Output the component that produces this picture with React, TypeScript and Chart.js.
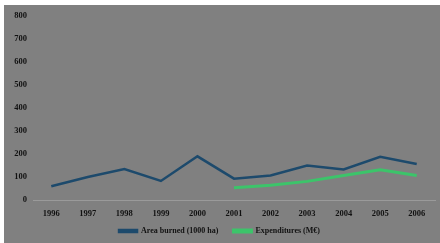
import React, { useEffect, useRef } from "react";
import { Chart, registerables } from "chart.js";

Chart.register(...registerables);

const years = ["1996", "1997", "1998", "1999", "2000", "2001", "2002", "2003", "2004", "2005", "2006"];
const areaBurned = [60, 100, 135, 83, 190, 93, 107, 150, 133, 188, 157];
const expenditures = [null, null, null, null, null, 53, 64, 81, 107, 131, 107];
const yTicks = [0, 100, 200, 300, 400, 500, 600, 700, 800];

const legendFix = {
  id: "legendFix",
  beforeLayout(chart: any) {
    const lg = chart.legend;
    if (lg && !lg.__patched) {
      const orig = lg.fit.bind(lg);
      lg.fit = function () {
        orig();
        this.height = 23;
      };
      lg.__patched = true;
    }
  },
  afterLayout(chart: any) {
    const lg = chart.legend;
    if (lg) {
      const h = lg.bottom - lg.top;
      lg.top = 207;
      lg.bottom = 207 + h;
    }
  },
};

export default function App() {
  const ref = useRef<HTMLCanvasElement | null>(null);
  useEffect(() => {
    if (!ref.current) return;
    const font = { family: "'Liberation Serif', serif", size: 8.5, weight: "bold" as const };
    const legendFont = { family: "'Liberation Serif', serif", size: 8, weight: "bold" as const };
    const chart = new Chart(ref.current, {
      type: "line",
      data: {
        labels: years,
        datasets: [
          {
            label: "Area burned (1000 ha)",
            data: areaBurned,
            borderColor: "#1d4a6c",
            backgroundColor: "#1d4a6c",
            borderWidth: 2.5,
            pointRadius: 0,
            tension: 0,
          },
          {
            label: "Expenditures (M€)",
            data: expenditures,
            borderColor: "#3cc46a",
            backgroundColor: "#3cc46a",
            borderWidth: 3,
            pointRadius: 0,
            tension: 0,
          },
        ],
      },
      plugins: [legendFix],
      options: {
        animation: false,
        responsive: false,
        maintainAspectRatio: false,
        layout: { padding: { top: 8, right: 5, left: 0, bottom: 0 } },
        plugins: {
          tooltip: { enabled: false },
          legend: {
            position: "bottom",
            labels: {
              color: "#111",
              font: legendFont,
              boxWidth: 18,
              boxHeight: 2,
              padding: 15,
            },
          },
        },
        scales: {
          x: {
            offset: true,
            grid: { display: false, drawTicks: false },
            border: { display: true, color: "#9a9a9a", width: 1 },
            ticks: { color: "#111", font, padding: 9, maxRotation: 0 },
            afterFit: (s: any) => { s.height = 20; },
          },
          y: {
            min: 0,
            max: 800,
            afterBuildTicks: (s: any) => { s.ticks = yTicks.map((v) => ({ value: v })); },
            grid: { display: false, drawTicks: false },
            border: { display: false },
            ticks: { color: "#111", font, padding: 6 },
            afterFit: (s: any) => { s.width = 29; },
          },
        },
      },
    });
    return () => chart.destroy();
  }, []);
  return (
    <div style={{ position: "fixed", left: 4, top: 5, width: 436, height: 238, background: "#808080" }}>
      <canvas ref={ref} width={436} height={238} style={{ display: "block" }} />
    </div>
  );
}
